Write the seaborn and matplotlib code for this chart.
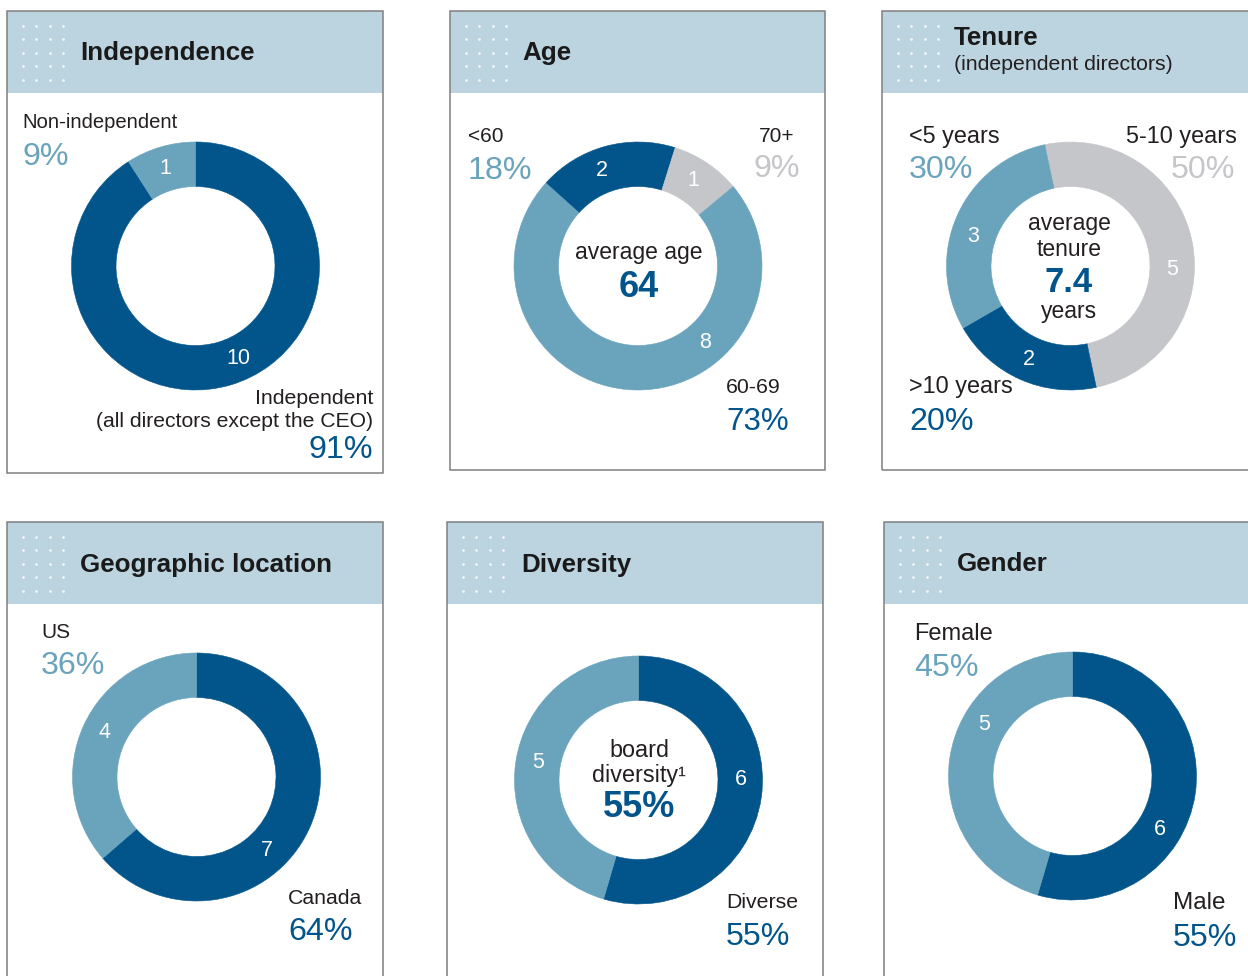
import numpy as np
import seaborn as sns
import matplotlib.pyplot as plt
from matplotlib.patches import Rectangle

# board composition data (number of directors per group)
independence_cats = ["Independent", "Non-independent"]
independence_counts = [10, 1]

age_cats = ["<60", "70+", "60-69"]
age_counts = [2, 1, 8]
average_age = "64"

tenure_cats = ["5-10 years", ">10 years", "<5 years"]
tenure_counts = [5, 2, 3]
average_tenure = "7.4"

geo_cats = ["Canada", "US"]
geo_counts = [7, 4]

diversity_cats = ["Diverse", "Not diverse"]
diversity_counts = [6, 5]

gender_cats = ["Male", "Female"]
gender_counts = [6, 5]

sns.set_theme(style="white")
plt.rcParams['font.family'] = ['Liberation Sans', 'DejaVu Sans']

DARK = "#02558b"
LIGHT = "#6aa3bc"
GREY = "#c5c6c9"
HEADER = "#bcd4e0"
TXT = "#231f20"
pal = sns.color_palette([DARK, LIGHT, GREY])
PCT = 23.2
TITLE = 18.7

W, H = 1248, 976
fig = plt.figure(figsize=(W / 100, H / 100), dpi=100)
ax = fig.add_axes([0, 0, 1, 1])


def Y(y):
    # image rows -> data y
    return H - y


def pct(counts, i):
    return f"{round(100 * counts[i] / sum(counts))}%"


def panel(x0, y0, x1, y1):
    ax.add_patch(Rectangle((x0, Y(y1)), x1 - x0, y1 - y0, facecolor="white",
                           edgecolor="none", zorder=0))
    ax.add_patch(Rectangle((x0, Y(y0 + 82)), x1 - x0, 82, facecolor=HEADER,
                           edgecolor="none", zorder=1))
    ax.add_patch(Rectangle((x0, Y(y1)), x1 - x0, y1 - y0, facecolor="none",
                           edgecolor="#7f7f7f", lw=1.1, zorder=5))
    gx, gy = np.meshgrid(x0 + np.array([15.5, 29, 42.5, 56]),
                         y0 + np.array([14.5, 28, 41.5, 55, 68.5]))
    ax.scatter(gx.ravel(), Y(gy.ravel()), s=3.5, color="white", alpha=0.9,
               linewidths=0, zorder=2)


def donut(counts, colors, cx, cy, start, label_angles):
    wedges, _ = ax.pie(counts, colors=colors, startangle=start,
                       counterclock=False, radius=124, center=(cx, Y(cy)),
                       frame=True, wedgeprops=dict(width=44.5, linewidth=0.4))
    for w in wedges:
        w.set_edgecolor(w.get_facecolor())
    for c, a in zip(counts, label_angles):
        t = np.deg2rad(a)
        ax.text(cx + 102 * np.cos(t), Y(cy) + 102 * np.sin(t), str(c),
                color="white", fontsize=15.5, ha="center", va="center", zorder=6)


def txt(x, y, s, color=TXT, size=15, ha="left", weight="normal"):
    ax.text(x, Y(y), s, color=color, fontsize=size, ha=ha, va="baseline",
            fontweight=weight, zorder=6)


# panel frames
panel(7, 11, 383, 473)
panel(450, 11, 825, 470)
panel(882, 11, 1260, 470)
panel(7, 522, 383, 990)
panel(447, 522, 823, 990)
panel(884, 522, 1260, 990)

# Independence
txt(80, 60, "Independence", size=TITLE, weight="bold", color="#1a1a1a")
donut(independence_counts, [pal[0], pal[1]], 195.5, 266, 90, [-65, 107])
txt(22, 128, independence_cats[1], size=14.6)
txt(22, 165, pct(independence_counts, 1), color=LIGHT, size=PCT)
txt(373, 404, independence_cats[0], ha="right", size=15.3)
txt(373, 427, "(all directors except the CEO)", ha="right", size=15.2)
txt(373, 458, pct(independence_counts, 0), color=DARK, size=PCT, ha="right")

# Age
txt(522, 60, "Age", size=TITLE, weight="bold", color="#1a1a1a")
donut(age_counts, [pal[0], pal[2], pal[1]], 638, 266, 138, [111, 57, -49])
txt(468, 142, age_cats[0])
txt(468, 179, pct(age_counts, 0), color=LIGHT, size=PCT)
txt(794, 142, age_cats[1], ha="right")
txt(800, 177, pct(age_counts, 1), color=GREY, size=PCT, ha="right")
txt(726, 393, age_cats[2], size=15.3)
txt(726, 430, pct(age_counts, 2), color=DARK, size=22.5)
txt(639, 259, "average age", size=16.5, ha="center")
txt(639, 297, average_age, size=26, ha="center", weight="bold", color=DARK)

# Tenure
txt(954, 45, "Tenure", size=TITLE, weight="bold", color="#1a1a1a")
txt(954, 70, "(independent directors)", size=15.3)
donut(tenure_counts, [pal[2], pal[0], pal[1]], 1070.5, 266, 102, [-2, -114, 163])
txt(909, 143, tenure_cats[2], size=16.8)
txt(909, 178, pct(tenure_counts, 2), color=LIGHT, size=PCT)
txt(1237, 143, tenure_cats[0], ha="right", size=16.8)
txt(1235, 178, pct(tenure_counts, 0), color=GREY, size=PCT, ha="right")
txt(909, 393, tenure_cats[1], size=16.8)
txt(909, 430, pct(tenure_counts, 1), color=DARK, size=PCT)
txt(1069, 230, "average", size=16.5, ha="center")
txt(1069, 256, "tenure", size=16.5, ha="center")
txt(1069, 292, average_tenure, size=25, ha="center", weight="bold", color=DARK)
txt(1069, 318, "years", size=16.5, ha="center")

# Geographic location
txt(80, 572, "Geographic location", size=TITLE, weight="bold", color="#1a1a1a")
donut(geo_counts, [pal[0], pal[1]], 196.5, 777, 90, [-46, 154])
txt(41, 638, geo_cats[1])
txt(41, 674, pct(geo_counts, 1), color=LIGHT, size=PCT)
txt(288, 904, geo_cats[0], size=15.3)
txt(288, 940, pct(geo_counts, 0), color=DARK, size=PCT)

# Diversity
txt(521, 572, "Diversity", size=TITLE, weight="bold", color="#1a1a1a")
donut(diversity_counts, [pal[0], pal[1]], 638.5, 780, 90, [0.5, 170])
txt(639, 757, "board", size=16.8, ha="center")
txt(639, 782, "diversity\u00b9", size=16.8, ha="center")
txt(639, 817, pct(diversity_counts, 0), size=26, ha="center", weight="bold",
    color=DARK)
txt(726, 908, diversity_cats[0], size=15.3)
txt(726, 945, pct(diversity_counts, 0), color=DARK, size=PCT)

# Gender
txt(957, 571, "Gender", size=TITLE, weight="bold", color="#1a1a1a")
donut(gender_counts, [pal[0], pal[1]], 1072.5, 776, 90, [-31.5, 150])
txt(914, 640, gender_cats[1], size=17)
txt(914, 676, pct(gender_counts, 1), color=LIGHT, size=PCT)
txt(1173, 909, gender_cats[0], size=17.5)
txt(1173, 946, pct(gender_counts, 0), color=DARK, size=PCT)

ax.set_xlim(0, W)
ax.set_ylim(0, H)
ax.set_aspect("auto")
ax.axis("off")

fig.savefig("out.png", dpi=100, facecolor="white")
